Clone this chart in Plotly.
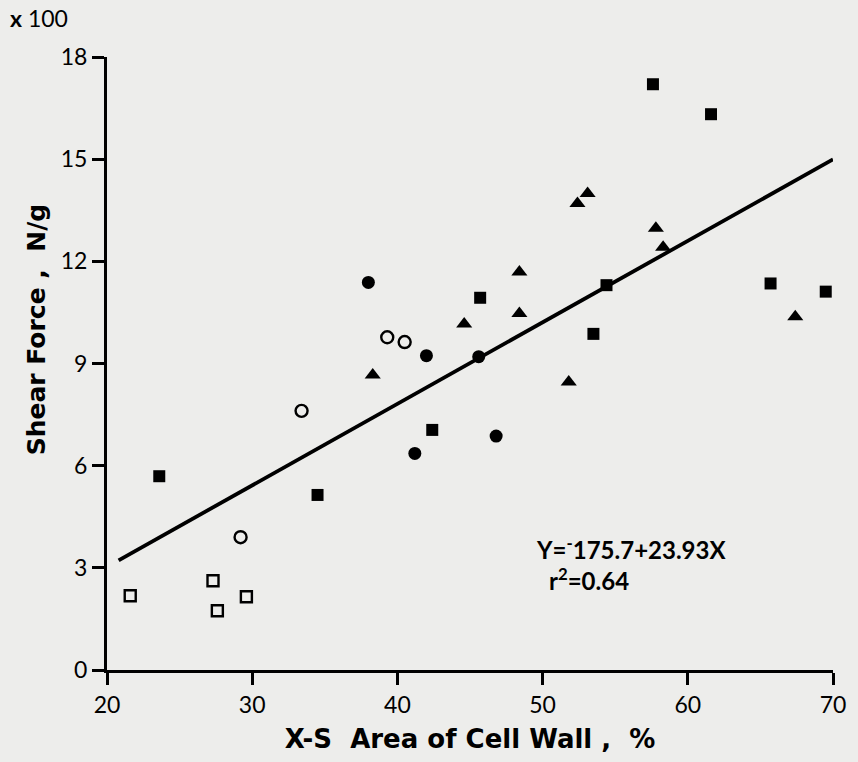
import plotly.graph_objects as go

# Data (shear force in units of 100 N/g)
open_sq_x = [21.6, 27.3, 27.6, 29.6]
open_sq_y = [2.18, 2.62, 1.74, 2.15]

open_ci_x = [29.2, 33.4, 39.3, 40.5]
open_ci_y = [3.90, 7.61, 9.77, 9.63]

fill_sq_x = [23.6, 34.5, 42.4, 45.7, 54.4, 53.5, 57.6, 61.6, 65.7, 69.5]
fill_sq_y = [5.69, 5.14, 7.05, 10.93, 11.30, 9.87, 17.2, 16.32, 11.35, 11.11]

fill_ci_x = [38.0, 42.0, 45.6, 46.8, 41.2]
fill_ci_y = [11.38, 9.23, 9.20, 6.87, 6.36]

tri_x = [38.3, 44.6, 48.4, 48.4, 51.8, 52.4, 53.1, 57.8, 58.3, 67.4]
tri_y = [8.66, 10.16, 10.47, 11.69, 8.46, 13.70, 13.99, 12.97, 12.41, 10.37]

intercept = -175.7
slope = 23.93
line_x = [20.8, 70.0]

x_ticks = [20, 30, 40, 50, 60, 70]
y_ticks = [0, 3, 6, 9, 12, 15, 18]

FONT = "Lato"
TFONT = "DejaVu Sans"
BG = "#ededeb"

fig = go.Figure()

line_y = [(intercept + slope * x) / 100 for x in line_x]
fig.add_trace(go.Scatter(x=line_x, y=line_y, mode="lines",
                         line=dict(color="black", width=3.8), showlegend=False))

fig.add_trace(go.Scatter(x=open_sq_x, y=open_sq_y, mode="markers",
                         marker=dict(symbol="square-open", size=11, color="black",
                                     line=dict(width=2.4, color="black")), showlegend=False))
fig.add_trace(go.Scatter(x=open_ci_x, y=open_ci_y, mode="markers",
                         marker=dict(symbol="circle-open", size=12, color="black",
                                     line=dict(width=2.4, color="black")), showlegend=False))
fig.add_trace(go.Scatter(x=fill_sq_x, y=fill_sq_y, mode="markers",
                         marker=dict(symbol="square", size=12, color="black"), showlegend=False))
fig.add_trace(go.Scatter(x=fill_ci_x, y=fill_ci_y, mode="markers",
                         marker=dict(symbol="circle", size=13, color="black"), showlegend=False))
fig.add_trace(go.Scatter(x=tri_x, y=tri_y, mode="markers",
                         marker=dict(symbol="triangle-up", size=14, color="black"), showlegend=False))

fig.add_annotation(x=49.4, y=3.58, xref="x", yref="y", xanchor="left", yanchor="middle",
                   text="<b>Y=<sup>-</sup>175.7+23.93X</b>", showarrow=False,
                   font=dict(family=FONT, size=24, color="black"))
fig.add_annotation(x=50.3, y=2.68, xref="x", yref="y", xanchor="left", yanchor="middle",
                   text="<b>r<sup>2</sup>=0.64</b>", showarrow=False,
                   font=dict(family=FONT, size=24, color="black"))
fig.add_annotation(x=-0.137, y=1.0636, xref="paper", yref="paper", xanchor="left", yanchor="middle",
                   text="<b>x</b> 100", showarrow=False,
                   font=dict(family=FONT, size=23, color="black"))
# y-axis title
fig.add_annotation(x=-0.097, y=0.555, xref="paper", yref="paper", xanchor="center", yanchor="middle",
                   text="<b>Shear Force ,  N/g</b>", textangle=-90, showarrow=False,
                   font=dict(family=TFONT, size=25, color="black"))

fig.update_layout(
    width=858, height=762,
    paper_bgcolor=BG, plot_bgcolor=BG,
    margin=dict(l=107, r=16, t=57, b=92),
    font=dict(family=FONT, size=23, color="black"),
)
fig.update_xaxes(range=[20, 70], tickvals=x_ticks, showgrid=False, zeroline=False,
                 showline=True, linecolor="black", linewidth=3,
                 ticks="outside", ticklen=12, tickwidth=2.5, tickcolor="black",
                 tickfont=dict(family=FONT, size=23),
                 title=dict(text="<b>X-S  Area of Cell Wall ,  %</b>",
                            font=dict(family=TFONT, size=26), standoff=14))
fig.update_yaxes(range=[0, 18], tickvals=y_ticks, showgrid=False, zeroline=False,
                 showline=True, linecolor="black", linewidth=3,
                 ticks="outside", ticklen=12, tickwidth=2.5, tickcolor="black",
                 tickfont=dict(family=FONT, size=23))

fig.write_html("out.html")
